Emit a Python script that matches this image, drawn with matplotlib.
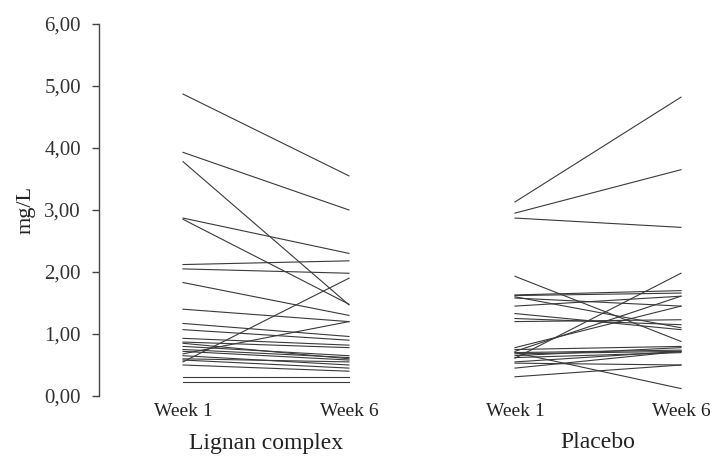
import matplotlib
matplotlib.use("Agg")
import matplotlib.pyplot as plt
from matplotlib.ticker import FuncFormatter

plt.rcParams['font.family'] = ['Liberation Serif', 'DejaVu Serif']

# paired measurements (mg/L), week 1 -> week 6
lignan_week1 = [4.87, 3.93, 3.78, 2.87, 2.85, 2.12, 2.05, 1.83, 1.40, 1.17,
                1.07, 0.93, 0.87, 0.80, 0.75, 0.72, 0.68, 0.55, 0.65, 0.60,
                0.58, 0.50, 0.85, 0.31, 0.23]
lignan_week6 = [3.55, 3.00, 1.47, 2.30, 1.48, 2.18, 1.98, 1.30, 1.20, 0.96,
                0.90, 0.82, 0.78, 0.65, 0.62, 0.58, 1.20, 1.90, 0.50, 0.55,
                0.45, 0.40, 0.60, 0.31, 0.23]

placebo_week1 = [3.13, 2.95, 2.87, 1.93, 1.63, 1.62, 1.60, 1.58, 1.45, 1.33,
                 1.20, 1.25, 0.78, 0.61, 0.72, 0.75, 0.70, 0.68, 0.65, 0.62,
                 0.55, 0.53, 0.45, 0.31, 0.70]
placebo_week6 = [4.82, 3.65, 2.72, 0.88, 1.70, 1.66, 1.10, 1.45, 1.61, 1.07,
                 1.23, 1.15, 1.45, 1.98, 1.61, 0.80, 0.74, 0.72, 0.78, 0.70,
                 0.72, 0.50, 0.72, 0.50, 0.12]

tick_pos = [1, 2, 3, 4]
tick_labels = ['Week 1', 'Week 6', 'Week 1', 'Week 6']
groups = ['Lignan complex', 'Placebo']

fig = plt.figure(figsize=(7.15, 4.57), dpi=100)
ax = fig.add_axes([99 / 715, 1 - 396 / 457, 616 / 715, 372 / 457])

line_kw = dict(color='#3a3a3a', linewidth=0.8)
for a, b in zip(lignan_week1, lignan_week6):
    ax.plot([1, 2], [a, b], **line_kw)
for a, b in zip(placebo_week1, placebo_week6):
    ax.plot([3, 4], [a, b], **line_kw)

ax.set_xlim(1 - 84 / 166, 1 + 532 / 166)
ax.set_ylim(0, 6)
ax.set_yticks(range(7))
ax.yaxis.set_major_formatter(FuncFormatter(lambda v, p: f"{v:.2f}".replace('.', ',')))
ax.set_xticks(tick_pos)
ax.set_xticklabels(tick_labels)

for s in ['top', 'right', 'bottom']:
    ax.spines[s].set_visible(False)
ax.spines['left'].set_bounds(0, 6)
ax.spines['left'].set_color('#444444')
ax.spines['left'].set_linewidth(1.0)

ax.tick_params(axis='y', length=5, width=1.0, color='#444444', pad=8,
               labelsize=15, labelcolor='#333333')
ax.tick_params(axis='x', length=0, pad=5, labelsize=14, labelcolor='#222222')

ax.set_ylabel('mg/L', fontsize=16, color='#222222')
ax.yaxis.set_label_coords(-63 / 616, 0.5)

for i, name in enumerate(groups):
    ax.text(1.5 + 2 * i, -47 / 372, name, transform=ax.get_xaxis_transform(),
            ha='center', va='center', fontsize=17, color='#222222')

fig.savefig('out.png', dpi=100)
